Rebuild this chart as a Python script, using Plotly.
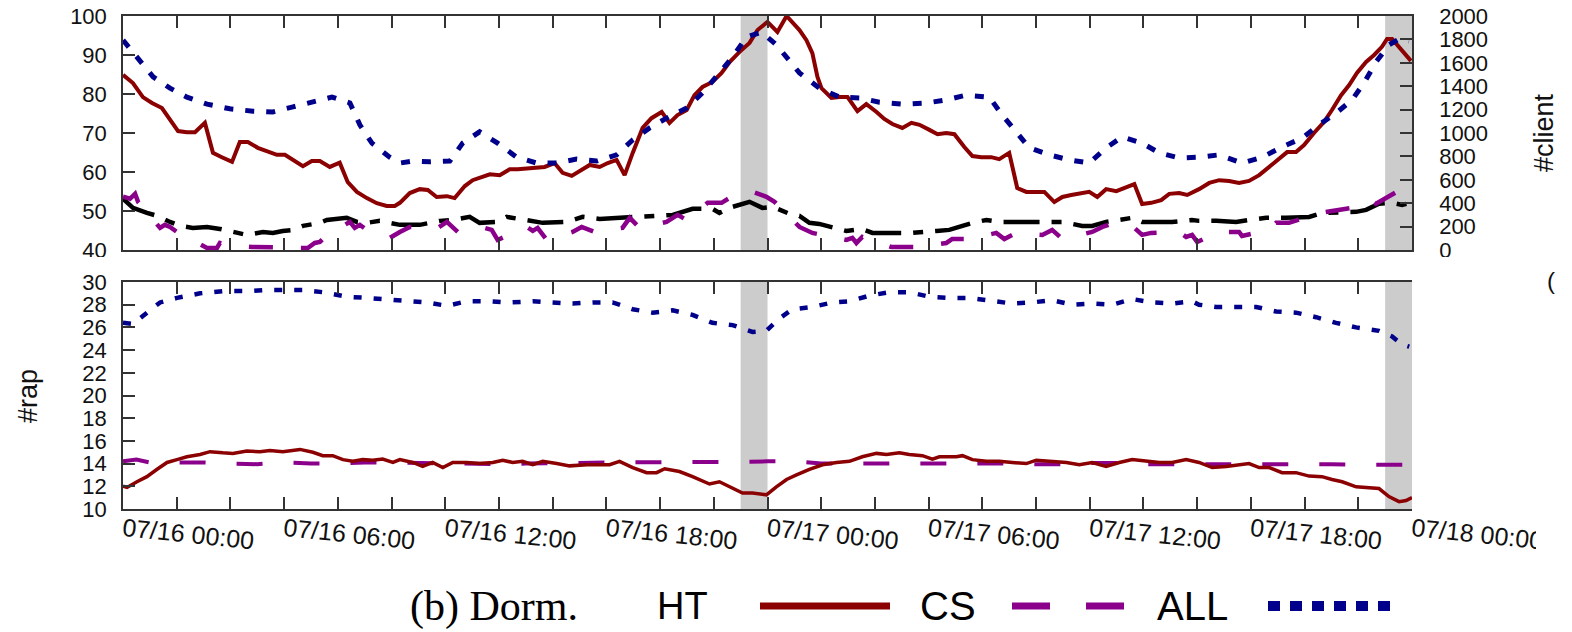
import pandas as pd
import plotly.graph_objects as go

START = pd.Timestamp("2015-07-16 00:00")

# ---------------- data (hours since 07/16 00:00) ----------------
# top panel, left axis
ht_top_h = [0.0, 0.37, 0.74, 1.08, 1.45, 1.75, 2.05, 2.38, 2.68, 3.05, 3.35, 3.68, 4.06, 4.35, 4.65, 5.02, 5.40, 5.73,
            6.03, 6.33, 6.70, 7.03, 7.33, 7.70, 8.07, 8.37, 8.71, 9.08, 9.45, 9.82, 10.12, 10.31, 10.68, 11.05, 11.35,
            11.68, 12.06, 12.35, 12.73, 13.02, 13.36, 13.66, 14.03, 14.40, 14.70, 15.07, 15.40, 15.70, 16.07, 16.37,
            16.71, 17.08, 17.38, 17.75, 18.05, 18.38, 18.68, 18.98, 19.35, 19.68, 20.06, 20.35, 20.65, 20.99, 21.28,
            21.58, 21.95, 22.29, 22.59, 22.96, 23.33, 23.63, 24.00, 24.37, 24.71, 25.19, 25.45, 25.67, 25.86, 26.01,
            26.38, 26.68, 26.98, 27.35, 27.68, 28.06, 28.35, 28.65, 29.02, 29.36, 29.66, 30.03, 30.33, 30.66, 30.96,
            31.33, 31.63, 31.96, 32.33, 32.63, 33.00, 33.30, 33.64, 34.01, 34.31, 34.68, 34.98, 35.31, 35.68, 35.98,
            36.28, 36.61, 36.99, 37.28, 37.66, 37.95, 38.29, 38.66, 38.96, 39.33, 39.63, 40.07, 40.45, 40.82, 41.19,
            41.56, 41.93, 42.31, 42.68, 43.05, 43.35, 43.68, 43.98, 44.35, 44.72, 45.02, 45.36, 45.66, 45.95, 46.29,
            46.59, 46.88, 47.07, 47.26, 47.59, 47.96]
ht_top_v = [84.9, 82.8, 79.2, 77.7, 76.4, 73.3, 70.5, 70.2, 70.2, 72.6, 64.9, 63.8, 62.6, 67.7, 67.7, 66.2, 65.1, 64.4,
            64.4, 63.1, 61.5, 62.8, 62.8, 61.3, 62.4, 57.4, 54.9, 53.3, 52.0, 51.3, 51.3, 52.1, 54.6, 55.6, 55.4,
            53.6, 53.8, 53.3, 56.4, 57.9, 58.7, 59.4, 59.2, 60.7, 60.7, 61.0, 61.3, 61.3, 62.3, 59.8,
            59.0, 60.5, 61.8, 61.3, 62.3, 63.1, 59.2, 64.9, 71.3, 73.8, 75.4, 72.6, 74.6, 75.9, 79.7,
            81.8, 83.1, 85.4, 88.2, 90.8, 93.1, 96.4, 98.5, 95.9, 100.0, 96.4, 93.8, 90.5, 84.4, 81.5,
            79.0, 79.2, 79.2, 75.6, 77.4, 75.4, 73.6, 72.3, 71.3, 72.6, 72.1, 70.8, 69.7, 70.0, 69.7,
            66.4, 64.1, 63.8, 63.8, 63.3, 64.9, 55.9, 54.9, 54.9, 54.9, 52.3, 53.6, 54.1, 54.6, 54.9,
            53.6, 55.6, 55.1, 55.9, 56.9, 51.8, 52.1, 52.8, 54.4, 54.6, 54.1, 55.6, 57.2, 57.9, 57.7,
            57.2, 57.7, 59.2, 61.3, 63.6, 65.1, 65.1, 66.9, 70.0, 72.8, 75.9, 79.7, 82.3, 85.4, 88.2,
            90.0, 92.1, 94.1, 94.1, 91.3, 88.5]

all_top_h = [0.0, 0.63, 1.12, 1.75, 2.38, 3.13, 3.98, 4.84, 5.58, 6.33, 7.07, 7.78, 8.45, 8.82, 9.27, 9.93, 10.31,
             10.79, 11.42, 12.17, 12.65, 13.28, 13.95, 14.66, 15.40, 16.15, 16.89, 17.64, 18.38, 18.98, 19.61, 20.24,
             20.99, 21.58, 22.21, 22.70, 23.22, 23.78, 24.33, 24.82, 25.19, 25.93, 26.68, 27.42, 28.17, 29.02, 29.92,
             30.66, 31.40, 32.26, 32.74, 33.26, 33.75, 34.49, 35.24, 35.98, 36.61, 37.21, 37.95, 38.59, 39.33, 40.07,
             40.82, 41.67, 42.42, 43.16, 43.91, 44.54, 45.17, 45.77, 46.21, 46.66, 47.14, 47.52, 47.89]
all_top_v = [93.8, 88.7, 84.4, 81.5, 79.2, 77.4, 76.2, 75.6, 75.4, 76.7, 77.9, 79.2, 77.7, 72.1, 67.4, 63.8, 62.3,
             62.8, 62.6, 62.8, 67.4, 70.3, 67.4, 63.8, 62.3, 62.3, 63.3, 62.8, 64.4, 68.2, 71.3, 73.8,
             76.4, 80.3, 85.4, 89.5, 94.6, 95.9, 92.6, 88.2, 85.4, 81.5, 79.2, 79.0, 77.9, 77.4, 77.7,
             78.5, 79.7, 79.2, 74.6, 70.3, 66.2, 64.4, 63.1, 62.3, 66.2, 69.0, 67.4, 64.9, 63.6, 63.8,
             64.4, 62.3, 63.8, 66.4, 68.7, 72.1, 75.1, 78.5, 82.8, 88.2, 92.6, 94.1, 93.6]

# top panel, right axis (#client)
cs_top_h = [0.0, 0.26, 0.45, 0.56, 1.38, 1.56, 1.75, 2.01, 3.13, 3.50, 3.61, 3.87, 4.80, 5.73, 6.88, 7.14, 7.33, 7.59,
            8.45, 8.63, 8.82, 9.08, 9.93, 10.31, 10.68, 11.72, 12.06, 12.47, 13.47, 13.73, 13.95, 15.03, 15.26,
            15.44, 15.78, 16.74, 17.08, 17.56, 18.60, 18.87, 19.24, 20.24, 20.47, 20.65, 20.99, 21.77, 22.29, 22.59,
            23.44, 23.96, 24.26, 25.19, 25.67, 26.94, 27.16, 27.31, 27.53, 28.61, 29.54, 30.66, 30.88, 31.52, 32.52,
            32.82, 33.26, 34.23, 34.60, 34.98, 36.09, 36.47, 36.91, 37.66, 37.95, 38.29, 39.33, 39.59, 39.81, 40.00,
            40.82, 41.56, 41.67, 42.68, 42.94, 43.42, 44.54, 44.84, 45.17, 46.03, 46.47, 46.66, 47.44, 47.70, 47.89]
cs_top_v = [455, 438, 480, 412, 189, 215, 197, 154, 17, 17, 60, 43, 26, 26, 17, 60, 69, 129,
            240, 189, 215, 172, 103, 154, 197, 189, 240, 154, 189, 172, 86, 197, 163,
            189, 86, 154, 197, 154, 189, 275, 189, 240, 275, 300, 257, 403, 403, 446,
            498, 455, 412, 197, 146, 86, 103, 60, 112, 26, 26, 60, 94, 94, 146,
            94, 146, 129, 172, 94, 154, 197, 232, 189, 129, 146, 154, 112, 129, 69,
            154, 154, 120, 172, 232, 232, 317, 326, 343, 369, 429, 395, 498, 532, 472]

oth_top_h = [0.00, 0.37, 0.89, 1.27, 1.75, 2.12, 2.60, 3.13, 3.61, 3.98, 4.61, 5.21, 5.58, 5.95, 6.33, 6.70, 7.33,
             7.59, 8.33, 8.71, 9.08, 9.56, 10.05, 10.31, 11.05, 11.80, 12.28, 12.91, 13.28, 13.92, 14.29, 14.88,
             15.63, 16.52, 17.12, 17.75, 18.49, 18.98, 19.72, 20.47, 21.21, 21.95, 22.21, 22.70, 23.33, 23.81, 24.19,
             24.82, 25.19, 25.56, 25.93, 26.57, 26.94, 27.50, 27.91, 28.43, 28.80, 29.40, 30.29, 30.77, 31.26, 31.63,
             32.15, 32.63, 33.12, 33.86, 34.38, 34.98, 35.72, 36.09, 36.61, 37.10, 37.58, 37.95, 38.59, 39.07, 39.81,
             40.07, 40.71, 41.45, 41.93, 42.57, 43.31, 44.17, 44.65, 45.17, 45.92, 46.29, 46.77, 47.26, 47.63, 47.96]
oth_top_v = [438, 360, 317, 292, 240, 206, 189, 197, 180, 163, 129, 154, 146, 163, 172, 206, 232,
             257, 275, 240, 232, 249, 223, 215, 215, 249, 257, 283, 232, 240, 283, 257,
             232, 240, 283, 266, 275, 283, 292, 300, 352, 352, 317, 369, 412, 360, 369,
             309, 292, 232, 223, 180, 163, 180, 146, 146, 146, 146, 163, 172, 206, 232,
             257, 240, 240, 240, 232, 240, 206, 206, 240, 257, 275, 240, 240, 240, 257,
             249, 249, 240, 257, 275, 275, 283, 317, 317, 326, 343, 395, 403, 386, 403]

# bottom panel (#rap)
ht_bot_h = [0.0, 0.15, 0.52, 0.89, 1.27, 1.64, 2.01, 2.38, 2.87, 3.24, 3.72, 4.09, 4.61, 5.10, 5.47, 5.95, 6.59,
            7.07, 7.44, 7.81, 8.19, 8.56, 8.93, 9.30, 9.67, 10.05, 10.31, 10.79, 11.16, 11.53, 11.91, 12.28, 12.80,
            13.28, 13.77, 14.14, 14.51, 14.88, 15.26, 15.63, 16.15, 16.63, 17.27, 17.75, 18.12, 18.49, 18.98, 19.50,
            19.87, 20.17, 20.72, 21.21, 21.84, 22.21, 22.59, 23.07, 23.44, 23.96, 24.33, 24.71, 25.08, 25.56, 26.05,
            26.57, 27.05, 27.53, 28.06, 28.43, 28.91, 29.28, 29.77, 30.14, 30.40, 31.03, 31.26, 31.63, 32.15, 32.63,
            33.12, 33.64, 34.01, 34.60, 35.13, 35.61, 36.09, 36.61, 37.10, 37.58, 38.10, 38.59, 39.07, 39.59, 40.07,
            40.56, 41.08, 41.56, 41.93, 42.31, 42.68, 43.16, 43.68, 44.17, 44.65, 45.02, 45.40, 45.92, 46.29, 46.77,
            47.14, 47.52, 47.78, 48.0]
ht_bot_v = [12.0, 11.9, 12.4, 12.85, 13.5, 14.1, 14.35, 14.6, 14.8, 15.05, 14.95, 14.9, 15.1, 15.05, 15.15, 15.05, 15.25,
            15.0, 14.7, 14.7, 14.35, 14.2, 14.35, 14.3, 14.4, 14.1, 14.35, 14.1, 13.75, 14.1, 13.65, 14.1, 14.1,
            14.0, 14.1, 14.3, 14.1, 14.2, 13.9, 14.2, 14.0, 13.8, 13.9, 13.9, 13.9, 14.2, 13.65, 13.2,
            13.2, 13.55, 13.3, 12.85, 12.2, 12.4, 11.95, 11.4, 11.4, 11.25, 11.95, 12.6, 13.0, 13.5, 13.9,
            14.1, 14.2, 14.6, 14.9, 14.8, 14.95, 14.8, 14.7, 14.4, 14.6, 14.6, 14.7, 14.35, 14.2, 14.2,
            14.1, 14.0, 14.3, 14.2, 14.1, 13.9, 14.1, 13.75, 14.1, 14.35, 14.2, 14.1, 14.1, 14.35, 14.1,
            13.65, 13.75, 13.9, 14.0, 13.65, 13.65, 13.2, 13.2, 12.9, 12.85, 12.6, 12.4, 11.95, 11.9, 11.8,
            11.1, 10.65, 10.75, 11.0]

cs_bot_h = [0, 0.5, 1, 2, 3, 4, 5, 6, 7, 8, 9, 10, 11, 12, 13, 14, 15, 16, 17, 18, 19, 20, 21, 22, 23, 24, 25, 26,
            27, 28, 29, 30, 31, 32, 33, 34, 35, 36, 37, 38, 39, 40, 41, 42, 43, 44, 45, 46, 47, 47.7]
cs_bot_v = [14.2, 14.35, 14.1, 14.1, 14.1, 14.0, 13.95, 14.1, 14.0, 14.0, 14.1, 14.1, 14.05, 14.05, 14.0, 13.95, 14.0,
            14.0, 14.05, 14.1, 14.1, 14.1, 14.1, 14.15, 14.15, 14.2, 14.2, 14.0, 14.0, 14.05, 14.05, 14.0, 14.0, 14.0,
            14.0, 13.95, 13.95, 14.05, 14.05, 13.95, 13.95, 13.95, 13.95, 14.0, 14.0, 13.95, 13.95, 13.9, 13.9, 13.9]

all_bot_h = [0.0, 0.37, 0.74, 1.38, 2.01, 2.87, 3.72, 4.61, 5.36, 5.95, 6.70, 7.44, 8.33, 9.08, 10.05, 11.31, 12.06,
             12.80, 13.66, 14.40, 15.26, 16.00, 16.74, 17.49, 18.23, 18.98, 19.72, 20.47, 21.21, 21.95, 22.70, 23.44,
             23.96, 24.45, 24.93, 25.67, 26.42, 27.05, 27.80, 28.54, 29.28, 30.03, 30.77, 31.52, 32.26, 33.12, 33.86,
             34.60, 35.35, 36.09, 36.84, 37.58, 38.33, 39.07, 39.81, 40.07, 40.71, 41.45, 42.20, 42.94, 43.68, 44.43,
             45.17, 45.92, 46.77, 47.26, 47.63, 47.9]
all_bot_v = [26.4, 26.3, 27.0, 28.2, 28.6, 29.0, 29.2, 29.2, 29.3, 29.3, 29.3, 29.1, 28.7, 28.6, 28.4, 28.2, 27.9,
             28.3, 28.3, 28.2, 28.3, 28.2, 28.1, 28.2, 28.2, 27.6, 27.3, 27.5, 27.1, 26.4, 26.2, 25.6,
             25.7, 26.8, 27.6, 27.8, 28.2, 28.3, 28.8, 29.1, 29.1, 28.7, 28.6, 28.6, 28.4, 28.1, 28.2,
             28.4, 28.0, 28.1, 28.0, 28.5, 28.2, 28.1, 28.3, 28.0, 27.8, 27.8, 27.8, 27.4, 27.3, 26.9,
             26.4, 26.0, 25.7, 25.2, 24.5, 24.3]

shade_start_h = [23, 47]
shade_end_h = [24, 48]

tick_hours = list(range(0, 49, 2))
tick_labels = ["07/16 00:00", "07/16 06:00", "07/16 12:00", "07/16 18:00",
               "07/17 00:00", "07/17 06:00", "07/17 12:00", "07/17 18:00", "07/18 00:00"]

legend_names = ["HT", "CS", "ALL"]
caption = "(b) Dorm."

# ---------------- styling ----------------
W, H = 1572, 632
RED, PURPLE, NAVY, BLACK = "#8b0000", "#8b008b", "#00008b", "#000000"
AX = "#333333"
TICKFONT = dict(family="Liberation Sans", size=22, color="#111111")


def T(hours):
    return [START + pd.Timedelta(hours=h) for h in hours]


def px(x):
    return x / W


def py(y):
    return 1 - y / H


X0, X1 = px(123), px(1412)

fig = go.Figure()
fig.add_trace(go.Scatter(x=T(oth_top_h), y=oth_top_v, xaxis="x2", yaxis="y2", mode="lines",
                         line=dict(color=BLACK, width=4.5, dash="36px,12px,10px,12px"), showlegend=False))
fig.add_trace(go.Scatter(x=T(cs_top_h), y=cs_top_v, xaxis="x2", yaxis="y2", mode="lines",
                         line=dict(color=PURPLE, width=4.5, dash="24px,28px"), showlegend=False))
fig.add_trace(go.Scatter(x=T(ht_top_h), y=ht_top_v, xaxis="x2", yaxis="y", mode="lines",
                         line=dict(color=RED, width=4), showlegend=False))
fig.add_trace(go.Scatter(x=T(all_top_h), y=all_top_v, xaxis="x2", yaxis="y", mode="lines",
                         line=dict(color=NAVY, width=5, dash="9px,12px"), showlegend=False))

fig.add_trace(go.Scatter(x=T(cs_bot_h), y=cs_bot_v, xaxis="x", yaxis="y3", mode="lines",
                         line=dict(color=PURPLE, width=4, dash="26px,31px"), showlegend=False))
fig.add_trace(go.Scatter(x=T(ht_bot_h), y=ht_bot_v, xaxis="x", yaxis="y3", mode="lines",
                         line=dict(color=RED, width=3.5), showlegend=False))
fig.add_trace(go.Scatter(x=T(all_bot_h), y=all_bot_v, xaxis="x", yaxis="y3", mode="lines",
                         line=dict(color=NAVY, width=4.5, dash="8px,12px"), showlegend=False))

xr = [START, START + pd.Timedelta(hours=48)]
tickvals = T(tick_hours)
ticktext = [tick_labels[h // 6] if h % 6 == 0 else "" for h in tick_hours]

axis_common = dict(showline=True, linecolor=AX, linewidth=1.5, ticks="inside", ticklen=12,
                   tickcolor=AX, tickwidth=1.5, showgrid=False, zeroline=False, tickfont=TICKFONT,
                   automargin=False)

fig.update_layout(
    width=W, height=H, margin=dict(l=0, r=0, t=0, b=0, pad=0, autoexpand=False),
    paper_bgcolor="white", plot_bgcolor="white", showlegend=False,
    xaxis=dict(domain=[X0, X1], anchor="y3", range=xr, tickvals=tickvals, ticktext=ticktext,
               mirror="ticks", tickangle=6, ticklabelstandoff=-5,
               **{**axis_common, "tickfont": dict(family="Liberation Sans", size=25, color="#111111")}),
    xaxis2=dict(domain=[X0, X1], anchor="y", range=xr, tickvals=tickvals, matches="x",
                showticklabels=False, mirror="ticks", **axis_common),
    yaxis=dict(domain=[py(250), py(16)], anchor="x2", range=[40, 100], dtick=10, tick0=40,
               ticklabelstandoff=10, **axis_common),
    yaxis2=dict(overlaying="y", side="right", anchor="x2", range=[0, 2000], dtick=200, tick0=0,
                ticklabelstandoff=21, **axis_common),
    yaxis3=dict(domain=[py(509), py(282)], anchor="x", range=[10, 30], dtick=2, tick0=10,
                ticklabelstandoff=10, **axis_common),
    yaxis4=dict(overlaying="y3", side="right", anchor="x", range=[10, 30], dtick=2, tick0=10,
                ticklabelstandoff=19, **axis_common),
)

# shaded hours (data-driven, both panels)
for s, e in zip(shade_start_h, shade_end_h):
    for xref, yref in (("x2", "y domain"), ("x", "y3 domain")):
        fig.add_shape(type="rect", xref=xref, yref=yref, x0=T([s])[0], x1=T([e])[0], y0=0, y1=1,
                      fillcolor="#cccccc", line=dict(width=0), layer="below")

# axis titles
fig.add_annotation(text="#client", x=px(1544), y=py(133), xref="paper", yref="paper", showarrow=False,
                   textangle=-90, xanchor="center", yanchor="middle",
                   font=dict(family="Liberation Sans", size=27, color="#111111"))
fig.add_annotation(text="#rap", x=px(28), y=py(396), xref="paper", yref="paper", showarrow=False,
                   textangle=-90, xanchor="center", yanchor="middle",
                   font=dict(family="Liberation Sans", size=27, color="#111111"))
fig.add_annotation(text="(", x=px(1545), y=py(281), xref="paper", yref="paper", showarrow=False,
                   xanchor="left", yanchor="middle",
                   font=dict(family="Liberation Sans", size=24, color="#111111"))

# crop-like white masks (reference image is clipped)
fig.add_shape(type="rect", xref="paper", yref="paper", x0=px(1536), x1=1, y0=py(570), y1=py(512),
              fillcolor="white", line=dict(width=0), layer="above")
fig.add_shape(type="rect", xref="paper", yref="paper", x0=0, x1=1, y0=py(268), y1=py(257),
              fillcolor="white", line=dict(width=0), layer="above")

# caption / legend
CAP_Y = py(606)
fig.add_annotation(text=caption, x=px(408), y=CAP_Y, xref="paper", yref="paper", showarrow=False,
                   xanchor="left", yanchor="middle",
                   font=dict(family="Liberation Serif", size=42, color="#000000"))
leg_text_x = [655, 918, 1155]
leg_text_size = [38, 40, 40]
leg_line = [(760, 890), (1012, 1124), (1268, 1395)]
leg_style = [dict(color=RED, width=7), dict(color=PURPLE, width=7, dash="38px,36px"),
             dict(color=NAVY, width=10, dash="12px,10px")]
for name, tx, fs, (a, b), st in zip(legend_names, leg_text_x, leg_text_size, leg_line, leg_style):
    fig.add_annotation(text=name, x=px(tx), y=CAP_Y, xref="paper", yref="paper", showarrow=False,
                       xanchor="left", yanchor="middle",
                       font=dict(family="Liberation Sans", size=fs, color="#000000"))
    fig.add_shape(type="line", xref="paper", yref="paper", x0=px(a), x1=px(b), y0=CAP_Y, y1=CAP_Y, line=st)

fig.write_html("out.html")
